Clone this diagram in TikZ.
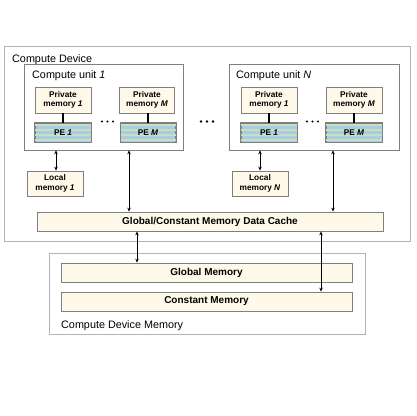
\documentclass[tikz,border=0pt]{standalone}
\usepackage{fontspec}
\setmainfont{Liberation Sans}
\usetikzlibrary{arrows.meta,calc}
\definecolor{cream}{HTML}{FFF9EA}
\definecolor{boxgray}{HTML}{7F7F7F}
\definecolor{outergray}{HTML}{B4B4B4}
\definecolor{pebl}{HTML}{A9CBEB}
\definecolor{pegr}{HTML}{C8E2B6}
\tikzset{
  membox/.style={draw=boxgray, line width=0.8pt, fill=cream, inner sep=0pt, align=center, font=\fontsize{8.3}{9.6}\selectfont\bfseries},
  bigmem/.style={membox, minimum height=19pt, font=\fontsize{10}{11}\selectfont\bfseries},
  pebox/.style={draw=boxgray, line width=0.8pt, fill=pebl, inner sep=0pt, minimum height=19pt},
  pelbl/.style={font=\fontsize{8.3}{9}\selectfont\bfseries},
  unitbox/.style={draw=boxgray, line width=0.6pt, fill=white, inner sep=0pt},
  outerbox/.style={draw=outergray, line width=1pt, inner sep=0pt},
  lbl/.style={anchor=base west, inner sep=0pt, font=\fontsize{10.8}{12}\selectfont},
  biarrow/.style={{Stealth[length=4pt,width=3.5pt]}-{Stealth[length=4pt,width=3.5pt]}, line width=0.9pt},
  link/.style={line width=1.3pt},
  dot/.style={circle, fill=black, inner sep=0pt, minimum size=2.4pt}
}
\begin{document}
\begin{tikzpicture}[x=1pt,y=-1pt]
\useasboundingbox (0,0) rectangle (416,416);
% outer compute device
\node[outerbox, minimum width=406pt, minimum height=195pt] (dev) at (207,143.5) {};
\node[lbl] (devl) at (12,62) {Compute Device};
% compute units
\node[unitbox, minimum width=159pt, minimum height=86pt] (cu1) at (103.5,107) {};
\node[unitbox, minimum width=170pt, minimum height=86pt] (cun) at (314,107) {};
\node[lbl] (cu1l) at (32,78) {Compute unit \textit{1}};
\node[lbl] (cunl) at (236,78) {Compute unit \textit{N}};
% private memories
\node[membox, minimum width=56pt, minimum height=26pt] (pa1) at (63,100) {Private\\memory \textit{1}};
\node[membox, minimum width=55pt, minimum height=26pt] (pam) at (147,100) {Private\\memory \textit{M}};
\node[membox, minimum width=56pt, minimum height=26pt] (pb1) at (269,100) {Private\\memory \textit{1}};
\node[membox, minimum width=56pt, minimum height=26pt] (pbm) at (354,100) {Private\\memory \textit{M}};
% PEs
\node[pebox, minimum width=56pt] (ea1) at (63,132.5) {};
\node[pebox, minimum width=55pt] (eam) at (148,132.5) {};
\node[pebox, minimum width=56pt] (eb1) at (269,132.5) {};
\node[pebox, minimum width=56pt] (ebm) at (354,132.5) {};
\foreach \n in {ea1,eam,eb1,ebm}{
  \foreach \k in {0.125,0.375,0.625,0.875}{
    \fill[pegr] ($(\n.south west)!\k!(\n.north west)+(0.4pt,-1.2pt)$) rectangle ($(\n.south east)!\k!(\n.north east)+(-0.4pt,1.2pt)$);
  }
  \draw[boxgray, line width=0.8pt] (\n.south west) rectangle (\n.north east);
}
\node[pelbl] at (ea1) {PE \textit{1}};
\node[pelbl] at (eam) {PE \textit{M}};
\node[pelbl] at (eb1) {PE \textit{1}};
\node[pelbl] at (ebm) {PE \textit{M}};
\draw[link] (pa1) -- (ea1);
\draw[link] (pam.south -| eam.north) -- (eam);
\draw[link] (pb1) -- (eb1);
\draw[link] (pbm) -- (ebm);
% dots
\foreach \x in {102,107.5,113} \node[dot] at (\x,121.5) {};
\foreach \x in {307,312.5,318} \node[dot] at (\x,121.5) {};
\foreach \x in {201,207,213} \node[dot, minimum size=2.8pt] at (\x,121.5) {};
% local memories
\node[membox, minimum width=56pt, minimum height=25pt] (la) at (55,183.5) {Local\\memory \textit{1}};
\node[membox, minimum width=56pt, minimum height=25pt] (lb) at (260,183.5) {Local\\memory \textit{N}};
% cache
\node[bigmem, minimum width=346pt] (cache) at (210,221.5) {Global/Constant Memory Data Cache};
% device memory
\node[draw=outergray, line width=0.9pt, minimum width=316pt, minimum height=81pt, inner sep=0pt] (dmem) at (207,293.5) {};
\node[bigmem, minimum width=291pt] (gmem) at (206.5,272.5) {Global Memory};
\node[bigmem, minimum width=291pt] (cmem) at (206.5,301.5) {Constant Memory};
\node[lbl] (dmeml) at (61,328.5) {Compute Device Memory};
% arrows
\coordinate (xa) at (56,0);
\coordinate (xb) at (129,0);
\coordinate (xc) at (260,0);
\coordinate (xd) at (333,0);
\coordinate (xe) at (137,0);
\coordinate (xf) at (321,0);
\draw[biarrow] (xa |- cu1.south) -- (xa |- la.north);
\draw[biarrow] (xb |- cu1.south) -- (xb |- cache.north);
\draw[biarrow] (xc |- cun.south) -- (xc |- lb.north);
\draw[biarrow] (xd |- cun.south) -- (xd |- cache.north);
\draw[biarrow] (xe |- cache.south) -- (xe |- gmem.north);
\draw[biarrow] (xf |- cache.south) -- (xf |- cmem.north);
\end{tikzpicture}
\end{document}
